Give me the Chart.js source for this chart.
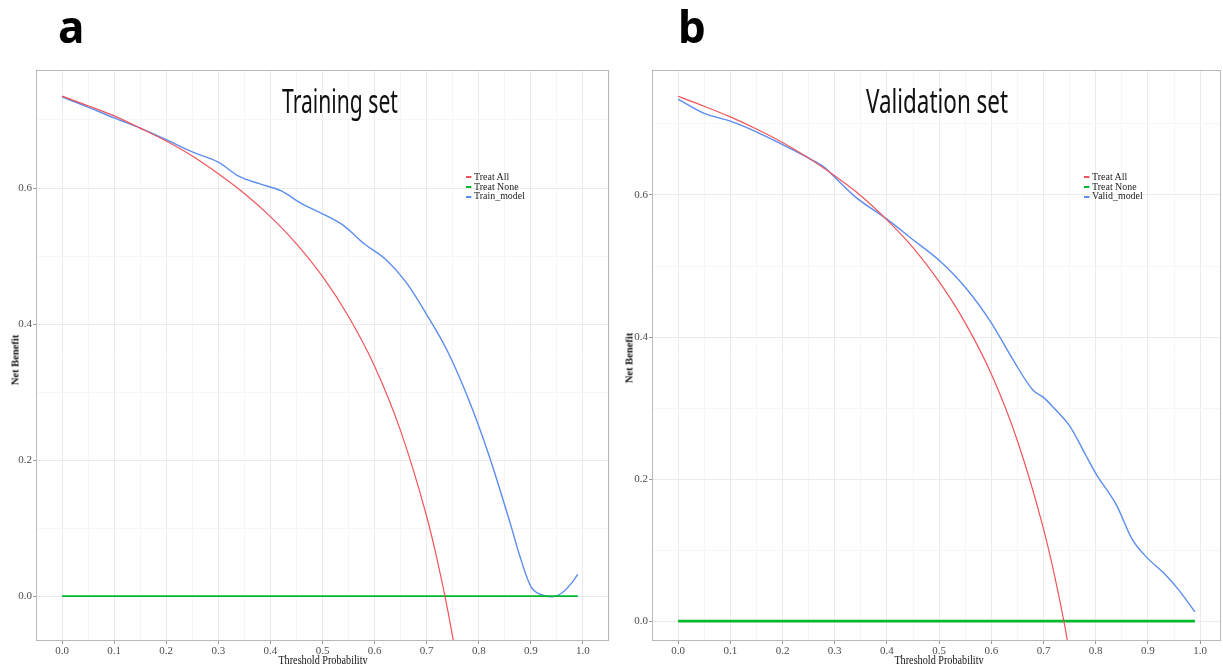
<!DOCTYPE html>
<html>
<head>
<meta charset="utf-8">
<script src="https://cdn.jsdelivr.net/npm/chart.js@4.4.1/dist/chart.umd.min.js"></script>
<style>
body { margin: 0; width: 1223px; height: 664px; overflow: hidden; background: #fff; position: relative; }
canvas { position: absolute; top: 0; }
.tag { position: absolute; top: -4px; font: bold 44px "Noto Sans", sans-serif; color: #000; z-index: 2; }
.title { position: absolute; top: 78px; font: 33px "Noto Sans", sans-serif; color: #111; z-index: 2; white-space: nowrap; }
.legend { position: absolute; top: 172px; font: 11px "Liberation Serif", serif; color: #222; z-index: 2; line-height: 9.7px; }
.legend div { white-space: nowrap; transform-origin: left; transform: scaleX(0.9); }
.legend span { display: inline-block; width: 6px; height: 2px; margin-right: 3px; vertical-align: middle; }
.ytitle { position: absolute; font: bold 10.5px "Liberation Serif", serif; color: #111; z-index: 2; transform: translate(-50%, -50%) rotate(-90deg); white-space: nowrap; }
.xtitle { position: absolute; top: 653px; font: 12px "Liberation Serif", serif; color: #111; z-index: 2; transform: translateX(-50%) scaleX(0.85); white-space: nowrap; }
</style>
</head>
<body>
<canvas id="trainChart" width="611" height="664" style="left:0"></canvas>
<canvas id="validChart" width="603" height="664" style="left:620px"></canvas>

<div class="tag" style="left:58px">a</div>
<div class="tag" style="left:678px">b</div>
<div class="title" style="left:340px; transform: translateX(-50%) scaleX(0.64)">Training set</div>
<div class="title" style="left:937px; transform: translateX(-50%) scaleX(0.68)">Validation set</div>

<div class="legend" style="left:466px">
  <div><span style="background:#F0545A"></span>Treat All</div>
  <div><span style="background:#00B82E"></span>Treat None</div>
  <div><span style="background:#5B8DEF"></span>Train_model</div>
</div>
<div class="legend" style="left:1084px">
  <div><span style="background:#F0545A"></span>Treat All</div>
  <div><span style="background:#00B82E"></span>Treat None</div>
  <div><span style="background:#5B8DEF"></span>Valid_model</div>
</div>

<div class="ytitle" style="left:15px; top:360px">Net Benefit</div>
<div class="ytitle" style="left:629px; top:358px">Net Benefit</div>
<div class="xtitle" style="left:323px">Threshold Probability</div>
<div class="xtitle" style="left:939px">Threshold Probability</div>

<script>
// training set
const trainModelThr = [0, 0.05, 0.1, 0.15, 0.2, 0.25, 0.3, 0.34, 0.38, 0.42, 0.46, 0.5, 0.54, 0.58, 0.62, 0.66, 0.7, 0.74, 0.78, 0.82, 0.86, 0.88, 0.9, 0.92, 0.94, 0.96, 0.98, 0.99];
const trainModel = [0.734, 0.719, 0.703, 0.688, 0.671, 0.653, 0.638, 0.617, 0.606, 0.596, 0.577, 0.562, 0.545, 0.518, 0.496, 0.462, 0.414, 0.36, 0.29, 0.206, 0.108, 0.056, 0.014, 0.002, -0.001, 0.005, 0.021, 0.032];
const trainAllThr = [0, 0.05, 0.1, 0.15, 0.2, 0.25, 0.3, 0.35, 0.4, 0.45, 0.5, 0.55, 0.6, 0.65, 0.7, 0.72, 0.74, 0.76];
const trainAll = [0.735, 0.721, 0.706, 0.688, 0.669, 0.647, 0.621, 0.592, 0.558, 0.518, 0.47, 0.411, 0.338, 0.243, 0.117, 0.054, -0.019, -0.104];

// validation set
const validModelThr = [0, 0.05, 0.1, 0.15, 0.2, 0.25, 0.28, 0.3, 0.34, 0.4, 0.45, 0.5, 0.55, 0.6, 0.64, 0.68, 0.7, 0.72, 0.75, 0.78, 0.8, 0.84, 0.87, 0.9, 0.93, 0.96, 0.99];
const validModel = [0.735, 0.715, 0.704, 0.689, 0.671, 0.652, 0.639, 0.625, 0.597, 0.566, 0.537, 0.508, 0.47, 0.42, 0.37, 0.325, 0.315, 0.3, 0.275, 0.235, 0.208, 0.163, 0.115, 0.088, 0.068, 0.043, 0.013];
const validAllThr = [0, 0.05, 0.1, 0.15, 0.2, 0.25, 0.3, 0.35, 0.4, 0.45, 0.5, 0.55, 0.6, 0.65, 0.7, 0.72, 0.74, 0.76];
const validAll = [0.739, 0.725, 0.71, 0.693, 0.674, 0.652, 0.627, 0.599, 0.565, 0.526, 0.478, 0.42, 0.348, 0.254, 0.13, 0.068, -0.004, -0.088];

const noneThr = [0, 0.99];
const noneVals = [0, 0];

const xTicks = [0, 0.1, 0.2, 0.3, 0.4, 0.5, 0.6, 0.7, 0.8, 0.9, 1.0];
const yTicks = [0, 0.2, 0.4, 0.6];

const RED = "#F0545A", GREEN = "#00B82E", BLUE = "#5B8DEF";
const pts = (xs, ys) => xs.map((x, i) => ({ x, y: ys[i] }));
const isMajor = (v, list) => list.some((t) => Math.abs(t - v) < 1e-6);

const panelBorder = {
  id: "panelBorder",
  afterDraw(chart) {
    const { ctx, chartArea: a } = chart;
    ctx.save();
    ctx.strokeStyle = "#b8b8b8";
    ctx.lineWidth = 1;
    ctx.strokeRect(a.left + 0.5, a.top + 0.5, a.right - a.left - 1, a.bottom - a.top - 1);
    ctx.restore();
  },
};

function axis(min, max, step, major, fit) {
  return {
    type: "linear",
    min, max,
    afterFit: fit,
    border: { display: false },
    grid: {
      color: (c) => (isMajor(c.tick.value, major) ? "#ebebeb" : "#f6f6f6"),
      tickColor: (c) => (isMajor(c.tick.value, major) ? "#9a9a9a" : "rgba(0,0,0,0)"),
      tickLength: 3,
      lineWidth: 1,
    },
    ticks: {
      stepSize: step,
      includeBounds: false,
      autoSkip: false,
      maxRotation: 0,
      padding: 1,
      color: "#4d4d4d",
      font: { family: "Liberation Serif", size: 11 },
      callback: (v) => (isMajor(v, major) ? Number(v).toFixed(1) : ""),
    },
  };
}

function renderDca(canvasId, allThr, allVals, modelThr, modelVals, modelName, xMax, yMin, yMax, yWidth, greenWidth) {
  return new Chart(document.getElementById(canvasId), {
    type: "line",
    data: {
      datasets: [
        { label: "Treat All", data: pts(allThr, allVals), borderColor: RED, borderWidth: 1.2, cubicInterpolationMode: "monotone" },
        { label: "Treat None", data: pts(noneThr, noneVals), borderColor: GREEN, borderWidth: greenWidth },
        { label: modelName, data: pts(modelThr, modelVals), borderColor: BLUE, borderWidth: 1.4, cubicInterpolationMode: "monotone" },
      ],
    },
    options: {
      responsive: false,
      animation: false,
      layout: { padding: { top: 70, right: 2, left: 0, bottom: 0 } },
      elements: { point: { radius: 0 } },
      plugins: { legend: { display: false }, tooltip: { enabled: false } },
      scales: {
        x: axis(-0.05, xMax, 0.05, xTicks, (s) => { s.height = 23; }),
        y: axis(yMin, yMax, 0.1, yTicks, (s) => { s.width = yWidth; }),
      },
    },
    plugins: [panelBorder],
  });
}

renderDca("trainChart", trainAllThr, trainAll, trainModelThr, trainModel, "Train_model", 1.05, -0.066, 0.7735, 36, 1.6);
renderDca("validChart", validAllThr, validAll, validModelThr, validModel, "Valid_model", 1.04, -0.028, 0.776, 32, 2.6);
</script>
</body>
</html>
